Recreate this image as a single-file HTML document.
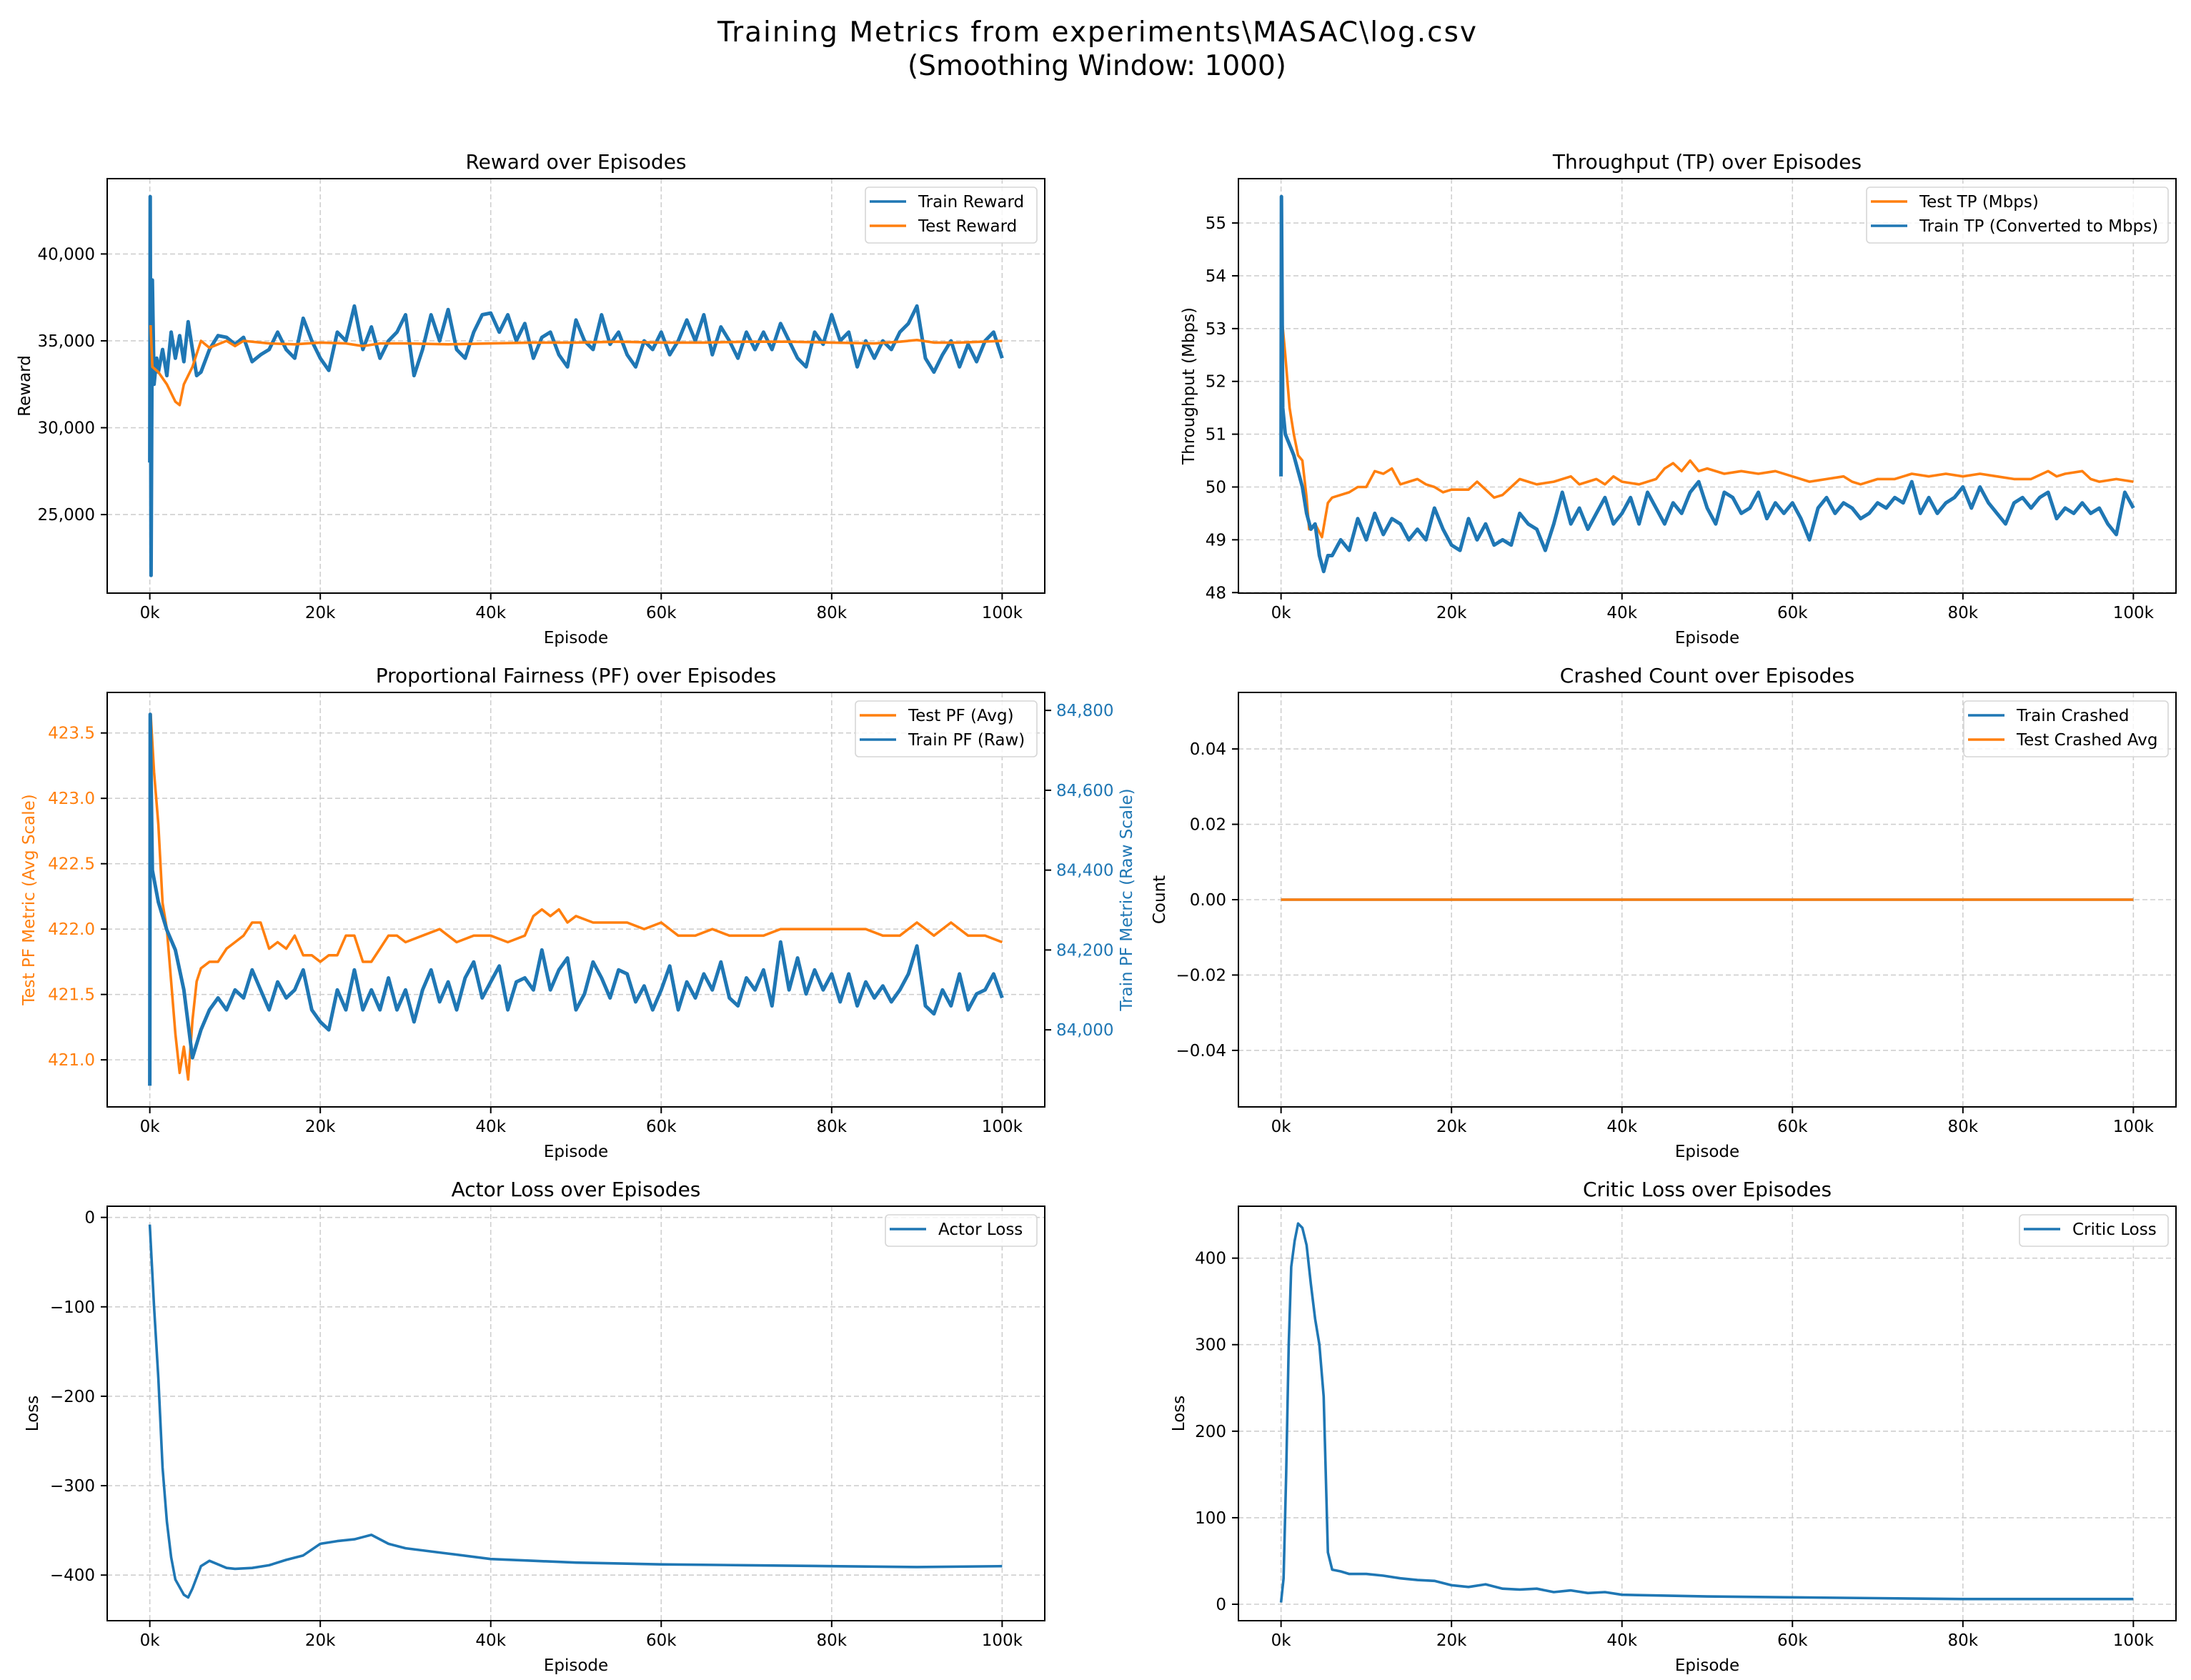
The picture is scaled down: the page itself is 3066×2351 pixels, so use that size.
<!DOCTYPE html>
<html><head><meta charset="utf-8">
<style>
html,body{margin:0;padding:0;background:#fff;}
svg{display:block;font-family:"DejaVu Sans","Liberation Sans",sans-serif;}
</style></head>
<body>
<svg id="fig" width="3066" height="2351" viewBox="0 0 3066 2351" xmlns="http://www.w3.org/2000/svg">
<rect width="3066" height="2351" fill="#fff"/>
<text x="1535" y="58" font-size="39" text-anchor="middle" textLength="1062">Training Metrics from experiments\MASAC\log.csv</text>
<text x="1535" y="105" font-size="39" text-anchor="middle">(Smoothing Window: 1000)</text>
</svg>
<script>
// ---- data (episodes in thousands) ----
const xTicks = [0,20,40,60,80,100];
const xTickLabels = ["0k","20k","40k","60k","80k","100k"];

const rewardTrainX = [0,0.05,0.15,0.3,0.5,0.8,1,1.5,2,2.5,3,3.5,4,4.5,5,5.5,6,7,8,9,10,11,12,13,14,15,16,17,18,19,20,21,22,23,24,25,26,27,28,29,30,31,32,33,34,35,36,37,38,39,40,41,42,43,44,45,46,47,48,49,50,51,52,53,54,55,56,57,58,59,60,61,62,63,64,65,66,67,68,69,70,71,72,73,74,75,76,77,78,79,80,81,82,83,84,85,86,87,88,89,90,91,92,93,94,95,96,97,98,99,100];
const rewardTrain = [28000,43300,21500,38500,32500,34000,33200,34500,33000,35500,34000,35300,33800,36100,34500,33000,33200,34500,35300,35200,34800,35200,33800,34200,34500,35500,34500,34000,36300,35000,34000,33300,35500,35000,37000,34500,35800,34000,35000,35500,36500,33000,34500,36500,35000,36800,34500,34000,35500,36500,36600,35500,36500,35000,36000,34000,35200,35500,34200,33500,36200,35000,34500,36500,34800,35500,34200,33500,35000,34500,35500,34200,35000,36200,35000,36500,34200,35800,35000,34000,35500,34500,35500,34500,36000,35000,34000,33500,35500,34800,36500,35000,35500,33500,35000,34000,35000,34500,35500,36000,37000,34000,33200,34200,35000,33500,34800,33800,35000,35500,34000];
const rewardTestX = [0.1,0.3,1,2,3,3.5,4,5,6,7,8,9,10,11,14,17,20,23,25,27,30,35,40,45,50,55,60,65,70,75,80,85,88,90,92,95,100];
const rewardTest = [35900,33500,33200,32500,31500,31300,32500,33500,35000,34600,34800,35000,34700,35000,34850,34800,34900,34850,34700,34850,34850,34800,34850,34900,34900,34950,34900,34900,34950,34950,34900,34850,34950,35050,34900,34900,35000];

const tpTrainX = [0,0.05,0.2,0.5,1,1.5,2,2.5,3,3.5,4,4.5,5,5.5,6,7,8,9,10,11,12,13,14,15,16,17,18,19,20,21,22,23,24,25,26,27,28,29,30,31,32,33,34,35,36,37,38,39,40,41,42,43,44,45,46,47,48,49,50,51,52,53,54,55,56,57,58,59,60,61,62,63,64,65,66,67,68,69,70,71,72,73,74,75,76,77,78,79,80,81,82,83,84,85,86,87,88,89,90,91,92,93,94,95,96,97,98,99,100];
const tpTrain = [50.2,55.5,51.5,51.0,50.8,50.6,50.3,50.0,49.5,49.2,49.3,48.7,48.4,48.7,48.7,49.0,48.8,49.4,49.0,49.5,49.1,49.4,49.3,49.0,49.2,49.0,49.6,49.2,48.9,48.8,49.4,49.0,49.3,48.9,49.0,48.9,49.5,49.3,49.2,48.8,49.3,49.9,49.3,49.6,49.2,49.5,49.8,49.3,49.5,49.8,49.3,49.9,49.6,49.3,49.7,49.5,49.9,50.1,49.6,49.3,49.9,49.8,49.5,49.6,49.9,49.4,49.7,49.5,49.7,49.4,49.0,49.6,49.8,49.5,49.7,49.6,49.4,49.5,49.7,49.6,49.8,49.7,50.1,49.5,49.8,49.5,49.7,49.8,50.0,49.6,50.0,49.7,49.5,49.3,49.7,49.8,49.6,49.8,49.9,49.4,49.6,49.5,49.7,49.5,49.6,49.3,49.1,49.9,49.6];
const tpTestX = [0.1,0.5,1,1.5,2,2.5,3,3.3,4,4.8,5.5,6,8,9,10,11,12,13,14,15,16,17,18,19,20,22,23,24,25,26,27,28,29,30,32,34,35,36,37,38,39,40,42,44,45,46,47,48,49,50,52,54,56,58,60,62,64,66,67,68,70,72,74,76,78,80,82,84,86,88,90,91,92,94,95,96,98,100];
const tpTest = [53.2,52.5,51.5,51.0,50.6,50.5,49.8,49.2,49.3,49.05,49.7,49.8,49.9,50.0,50.0,50.3,50.25,50.35,50.05,50.1,50.15,50.05,50.0,49.9,49.95,49.95,50.1,49.95,49.8,49.85,50.0,50.15,50.1,50.05,50.1,50.2,50.05,50.1,50.15,50.05,50.2,50.1,50.05,50.15,50.35,50.45,50.3,50.5,50.3,50.35,50.25,50.3,50.25,50.3,50.2,50.1,50.15,50.2,50.1,50.05,50.15,50.15,50.25,50.2,50.25,50.2,50.25,50.2,50.15,50.15,50.3,50.2,50.25,50.3,50.15,50.1,50.15,50.1];

const pfTestX = [0.1,0.5,1,1.5,2,2.5,3,3.5,4,4.5,5,5.5,6,7,8,9,10,11,12,13,14,15,16,17,18,19,20,21,22,23,24,25,26,27,28,29,30,32,34,36,38,40,42,44,45,46,47,48,49,50,52,54,56,58,60,62,64,66,68,70,72,74,76,78,80,82,84,86,88,90,92,94,96,98,100];
const pfTest = [423.65,423.2,422.8,422.2,422.0,421.6,421.2,420.9,421.1,420.85,421.3,421.6,421.7,421.75,421.75,421.85,421.9,421.95,422.05,422.05,421.85,421.9,421.85,421.95,421.8,421.8,421.75,421.8,421.8,421.95,421.95,421.75,421.75,421.85,421.95,421.95,421.9,421.95,422.0,421.9,421.95,421.95,421.9,421.95,422.1,422.15,422.1,422.15,422.05,422.1,422.05,422.05,422.05,422.0,422.05,421.95,421.95,422.0,421.95,421.95,421.95,422.0,422.0,422.0,422.0,422.0,422.0,421.95,421.95,422.05,421.95,422.05,421.95,421.95,421.9];
const pfTrainX = [0,0.05,0.3,1,2,3,4,5,6,7,8,9,10,11,12,13,14,15,16,17,18,19,20,21,22,23,24,25,26,27,28,29,30,31,32,33,34,35,36,37,38,39,40,41,42,43,44,45,46,47,48,49,50,51,52,53,54,55,56,57,58,59,60,61,62,63,64,65,66,67,68,69,70,71,72,73,74,75,76,77,78,79,80,81,82,83,84,85,86,87,88,89,90,91,92,93,94,95,96,97,98,99,100];
const pfTrain = [83860,84790,84400,84320,84250,84200,84100,83930,84000,84050,84080,84050,84100,84080,84150,84100,84050,84120,84080,84100,84150,84050,84020,84000,84100,84050,84150,84050,84100,84050,84130,84050,84100,84020,84100,84150,84070,84120,84050,84130,84170,84080,84120,84160,84050,84120,84130,84100,84200,84100,84150,84180,84050,84090,84170,84130,84080,84150,84140,84070,84110,84050,84100,84160,84050,84120,84080,84140,84100,84170,84080,84060,84130,84100,84150,84060,84220,84100,84180,84090,84150,84100,84140,84070,84140,84060,84120,84080,84110,84070,84100,84140,84210,84060,84040,84100,84060,84140,84050,84090,84100,84140,84080];

const crashX = [0,100];
const crashTrain = [0,0];
const crashTest = [0,0];

const actorX = [0,0.5,1,1.5,2,2.5,3,4,4.5,5,6,7,8,9,10,12,14,16,18,20,22,24,26,28,30,35,40,45,50,60,70,80,90,100];
const actorLoss = [-8,-100,-180,-280,-340,-380,-405,-422,-425,-415,-390,-384,-388,-392,-393,-392,-389,-383,-378,-365,-362,-360,-355,-365,-370,-376,-382,-384,-386,-388,-389,-390,-391,-390];

const criticX = [0,0.3,0.6,0.9,1.2,1.6,2,2.5,3,3.5,4,4.5,5,5.5,6,7,8,10,12,14,16,18,20,22,24,26,28,30,32,34,36,38,40,50,60,70,80,90,100];
const criticLoss = [2,30,150,300,390,420,440,435,415,370,330,300,240,60,40,38,35,35,33,30,28,27,22,20,23,18,17,18,14,16,13,14,11,9,8,7,6,6,6];

// ---- drawing ----
const NS = "http://www.w3.org/2000/svg";
const svg = document.getElementById("fig");
const BLUE = "#1f77b4", ORANGE = "#ff7f0e";
function mk(tag, attrs, parent) {
  const e = document.createElementNS(NS, tag);
  for (const k in attrs) e.setAttribute(k, attrs[k]);
  (parent || svg).appendChild(e);
  return e;
}
function fmtComma(v){ return Math.round(v).toLocaleString("en-US"); }

function panel(cfg) {
  const g = mk("g", {});
  
  
  const L = cfg.left, T = cfg.top, W = 1312, H = 580;
  const xs = v => L + (v + 5) / 110 * W;
  const ys = v => T + (cfg.ymax - v) / (cfg.ymax - cfg.ymin) * H;
  const ys2 = cfg.y2 ? (v => T + (cfg.y2.max - v) / (cfg.y2.max - cfg.y2.min) * H) : null;
  xTicks.forEach(t => {
    const gl = mk("line", {x1: xs(t), x2: xs(t), y1: T, y2: T + H, stroke: "#cfcfcf", "stroke-width": 1.6, "stroke-dasharray": "7,4"}, g);
    
    
  });
  cfg.yticks.forEach(t => {
    const gl = mk("line", {x1: L, x2: L + W, y1: ys(t), y2: ys(t), stroke: "#cfcfcf", "stroke-width": 1.6, "stroke-dasharray": "7,4"}, g);
    
    
  });
  const clipId = "clip-" + cfg.name;
  const cp = mk("clipPath", {id: clipId}, g);
  mk("rect", {x: L, y: T, width: W, height: H}, cp);
  cfg.series.forEach(s => {
    const yf = s.axis2 ? ys2 : ys;
    const pts = s.x.map((xv, i) => xs(xv).toFixed(1) + "," + yf(s.y[i]).toFixed(1)).join(" ");
    const pl = mk("polyline", {points: pts, fill: "none", stroke: s.color, "stroke-width": s.w || 3.6, "stroke-linejoin": "round", "clip-path": "url(#" + clipId + ")"}, g);
    
    
  });
  const fr = mk("rect", {x: L, y: T, width: W, height: H, fill: "none", stroke: "#000", "stroke-width": 2}, g);
  
  
  xTicks.forEach((t, i) => {
    mk("line", {x1: xs(t), x2: xs(t), y1: T + H, y2: T + H + 9, stroke: "#000", "stroke-width": 2}, g);
    const tx = mk("text", {x: xs(t), y: T + H + 35, "font-size": 23, "text-anchor": "middle"}, g);
    tx.textContent = xTickLabels[i];
    
    
  });
  const xl = mk("text", {x: L + W / 2, y: T + H + 70, "font-size": 23, "text-anchor": "middle"}, g);
  xl.textContent = "Episode";
  
  
  cfg.yticks.forEach(t => {
    mk("line", {x1: L - 9, x2: L, y1: ys(t), y2: ys(t), stroke: "#000", "stroke-width": 2}, g);
    const tx = mk("text", {x: L - 17, y: ys(t) + 8, "font-size": 23, "text-anchor": "end", fill: cfg.ycolor || "#000"}, g);
    tx.textContent = cfg.yfmt(t);
    
    
  });
  const yl = mk("text", {x: 0, y: 0, "font-size": 23, "text-anchor": "middle", fill: cfg.ycolor || "#000", transform: "translate(" + cfg.ylabelX + "," + (T + H / 2) + ") rotate(-90)"}, g);
  yl.textContent = cfg.ylabel;
  
  
  if (cfg.y2) {
    cfg.y2.ticks.forEach(t => {
      mk("line", {x1: L + W, x2: L + W + 9, y1: ys2(t), y2: ys2(t), stroke: "#000", "stroke-width": 2}, g);
      const tx = mk("text", {x: L + W + 16, y: ys2(t) + 8, "font-size": 23, fill: BLUE}, g);
      tx.textContent = fmtComma(t);
      
      
    });
    const yl2 = mk("text", {x: 0, y: 0, "font-size": 23, "text-anchor": "middle", fill: BLUE, transform: "translate(1584," + (T + H / 2) + ") rotate(-90)"}, g);
    yl2.textContent = cfg.y2.label;
    
    
  }
  const tt = mk("text", {x: L + W / 2, y: T - 14, "font-size": 28, "text-anchor": "middle"}, g);
  tt.textContent = cfg.title;
  
  
  const lg = mk("g", {}, g);
  
  
  const lw = cfg.legendW, lx = L + W - 11 - lw, ly = T + 12;
  const lh = cfg.legend.length === 1 ? 44 : 78;
  mk("rect", {x: lx, y: ly, width: lw, height: lh, rx: 5, fill: "#fff", "fill-opacity": 0.8, stroke: "#d6d6d6", "stroke-width": 1.6}, lg);
  cfg.legend.forEach((en, i) => {
    const cy = ly + 20 + i * 34;
    const ll = mk("line", {x1: lx + 6, x2: lx + 57, y1: cy, y2: cy, stroke: en.color, "stroke-width": 3.6}, lg);
    
    
    const lt = mk("text", {x: lx + 74, y: cy + 8, "font-size": 23}, lg);
    lt.textContent = en.label;
    
    
  });
}

panel({name: "reward-panel", left: 150, top: 250, ymin: 20480, ymax: 44335,
  yticks: [25000,30000,35000,40000], yfmt: fmtComma, ylabel: "Reward", ylabelX: 42,
  title: "Reward over Episodes", legendW: 240,
  series: [{x: rewardTrainX, y: rewardTrain, color: BLUE, w: 5, dname: "train-reward-line"},
           {x: rewardTestX, y: rewardTest, color: ORANGE, dname: "test-reward-line"}],
  legend: [{label: "Train Reward", color: BLUE}, {label: "Test Reward", color: ORANGE}]});

panel({name: "throughput-panel", left: 1733, top: 250, ymin: 47.99, ymax: 55.84,
  yticks: [48,49,50,51,52,53,54,55], yfmt: v => String(v), ylabel: "Throughput (Mbps)", ylabelX: 1671,
  title: "Throughput (TP) over Episodes", legendW: 422,
  series: [{x: tpTestX, y: tpTest, color: ORANGE, dname: "test-tp-line"},
           {x: tpTrainX, y: tpTrain, color: BLUE, w: 5, dname: "train-tp-line"}],
  legend: [{label: "Test TP (Mbps)", color: ORANGE}, {label: "Train TP (Converted to Mbps)", color: BLUE}]});

panel({name: "pf-panel", left: 150, top: 969, ymin: 420.64, ymax: 423.81,
  yticks: [421.0,421.5,422.0,422.5,423.0,423.5], yfmt: v => v.toFixed(1), ycolor: ORANGE,
  ylabel: "Test PF Metric (Avg Scale)", ylabelX: 48,
  title: "Proportional Fairness (PF) over Episodes", legendW: 254,
  y2: {min: 83807, max: 84845, ticks: [84000,84200,84400,84600,84800], label: "Train PF Metric (Raw Scale)"},
  series: [{x: pfTestX, y: pfTest, color: ORANGE, dname: "test-pf-line"},
           {x: pfTrainX, y: pfTrain, color: BLUE, w: 5, axis2: true, dname: "train-pf-line"}],
  legend: [{label: "Test PF (Avg)", color: ORANGE}, {label: "Train PF (Raw)", color: BLUE}]});

panel({name: "crashed-panel", left: 1733, top: 969, ymin: -0.055, ymax: 0.055,
  yticks: [-0.04,-0.02,0,0.02,0.04], yfmt: v => (v < 0 ? "\u2212" : "") + Math.abs(v).toFixed(2), ylabel: "Count", ylabelX: 1630,
  title: "Crashed Count over Episodes", legendW: 286,
  series: [{x: crashX, y: crashTrain, color: BLUE, dname: "train-crashed-line"},
           {x: crashX, y: crashTest, color: ORANGE, dname: "test-crashed-line"}],
  legend: [{label: "Train Crashed", color: BLUE}, {label: "Test Crashed Avg", color: ORANGE}]});

panel({name: "actor-loss-panel", left: 150, top: 1688, ymin: -451, ymax: 12.5,
  yticks: [-400,-300,-200,-100,0], yfmt: v => (v < 0 ? "\u2212" : "") + Math.abs(v), ylabel: "Loss", ylabelX: 53,
  title: "Actor Loss over Episodes", legendW: 212,
  series: [{x: actorX, y: actorLoss, color: BLUE, dname: "actor-loss-line"}],
  legend: [{label: "Actor Loss", color: BLUE}]});

panel({name: "critic-loss-panel", left: 1733, top: 1688, ymin: -19, ymax: 460,
  yticks: [0,100,200,300,400], yfmt: v => String(v), ylabel: "Loss", ylabelX: 1657,
  title: "Critic Loss over Episodes", legendW: 208,
  series: [{x: criticX, y: criticLoss, color: BLUE, dname: "critic-loss-line"}],
  legend: [{label: "Critic Loss", color: BLUE}]});
</script>
</body></html>
